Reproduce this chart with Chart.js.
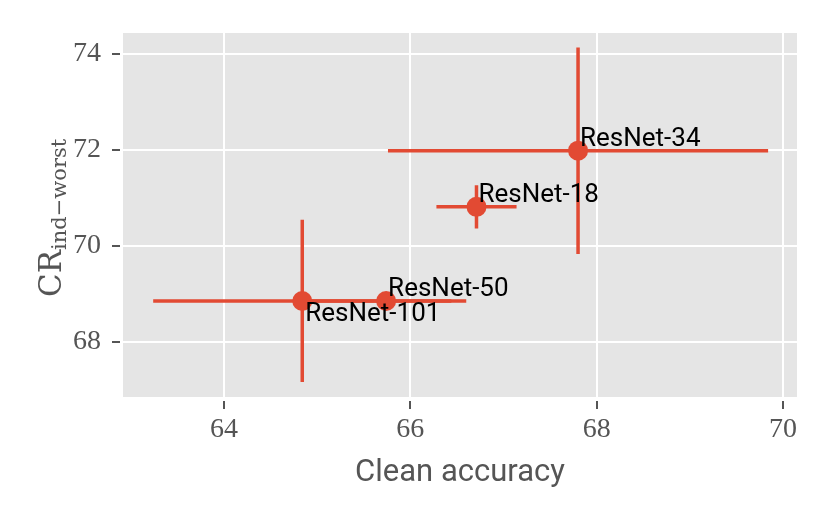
<!DOCTYPE html>
<html>
<head>
<meta charset="utf-8">
<script src="https://cdn.jsdelivr.net/npm/chart.js@4.4.1/dist/chart.umd.min.js"></script>
<style>
    html, body { margin: 0; padding: 0; background: #ffffff; }
    #wrap { width: 830px; height: 519px; }
</style>
</head>
<body>
<div id="wrap"><canvas id="myChart" width="830" height="519"></canvas></div>
<script>
// values
const models = ['ResNet-18', 'ResNet-34', 'ResNet-50', 'ResNet-101'];
const cleanAcc = [66.71, 67.80, 65.74, 64.84];
const cleanErr = [0.43, 2.04, 0.86, 1.60];
const crWorst = [70.81, 71.98, 68.85, 68.85];
const crErr = [0.45, 2.15, 0.08, 1.69];
const xTicks = [64, 66, 68, 70];
const yTicks = [68, 70, 72, 74];

const red = '#E24A33';
const tickGray = '#555555';
const labelBelow = { 'ResNet-101': true };

let points = [];
for (let i = 0; i < models.length; i++) {
    points.push({ x: cleanAcc[i], y: crWorst[i] });
}

const ggplotPlugin = {
    id: 'ggplotBits',
    beforeDraw(chart) {
        let ctx = chart.ctx;
        let a = chart.chartArea;
        ctx.save();
        ctx.fillStyle = '#E5E5E5';
        ctx.fillRect(a.left, a.top, a.right - a.left, a.bottom - a.top);
        ctx.restore();
    },
    beforeDatasetsDraw(chart) {
        let ctx = chart.ctx;
        let xs = chart.scales.x, ys = chart.scales.y;
        ctx.save();
        ctx.strokeStyle = red;
        ctx.lineWidth = 3.5;
        for (let i = 0; i < models.length; i++) {
            let px = xs.getPixelForValue(cleanAcc[i]);
            let py = ys.getPixelForValue(crWorst[i]);
            ctx.beginPath();
            ctx.moveTo(xs.getPixelForValue(cleanAcc[i] - cleanErr[i]), py);
            ctx.lineTo(xs.getPixelForValue(cleanAcc[i] + cleanErr[i]), py);
            ctx.moveTo(px, ys.getPixelForValue(crWorst[i] - crErr[i]));
            ctx.lineTo(px, ys.getPixelForValue(crWorst[i] + crErr[i]));
            ctx.stroke();
        }
        ctx.restore();
    },
    afterDatasetsDraw(chart) {
        let ctx = chart.ctx;
        let xs = chart.scales.x, ys = chart.scales.y;
        ctx.save();
        ctx.fillStyle = '#000000';
        ctx.font = '26px Roboto';
        ctx.textAlign = 'left';
        ctx.textBaseline = 'alphabetic';
        for (let i = 0; i < models.length; i++) {
            let px = xs.getPixelForValue(cleanAcc[i]);
            let py = ys.getPixelForValue(crWorst[i]);
            if (labelBelow[models[i]]) {
                ctx.fillText(models[i], px + 3, py + 20);
            } else {
                ctx.fillText(models[i], px + 2, py - 5);
            }
        }
        ctx.restore();
    },
    afterDraw(chart) {
        let ctx = chart.ctx;
        let xs = chart.scales.x, ys = chart.scales.y;
        let a = chart.chartArea;
        ctx.save();
        // tick marks, a little off the panel like ggplot
        ctx.strokeStyle = tickGray;
        ctx.lineWidth = 2;
        ctx.beginPath();
        xTicks.forEach(v => {
            let px = Math.round(xs.getPixelForValue(v));
            ctx.moveTo(px, a.bottom + 4);
            ctx.lineTo(px, a.bottom + 12);
        });
        yTicks.forEach(v => {
            let py = Math.round(ys.getPixelForValue(v));
            ctx.moveTo(a.left - 11, py);
            ctx.lineTo(a.left - 3, py);
        });
        ctx.stroke();

        // x axis title
        ctx.fillStyle = tickGray;
        ctx.font = '31px Roboto';
        ctx.textAlign = 'center';
        ctx.textBaseline = 'alphabetic';
        ctx.fillText('Clean accuracy', (a.left + a.right) / 2, 481);

        // y axis title with subscript
        ctx.translate(61, 297);
        ctx.rotate(-Math.PI / 2);
        ctx.textAlign = 'left';
        ctx.font = '31px "DejaVu Serif"';
        ctx.fillText('CR', 0, 0);
        let w = ctx.measureText('CR').width;
        ctx.font = '21px "DejaVu Serif"';
        ctx.fillText('ind\u2212worst', w, 5);
        ctx.restore();
    }
};

let ctx = document.getElementById('myChart').getContext('2d');
let myChart = new Chart(ctx, {
    type: 'scatter',
    data: {
        datasets: [{
            label: 'models',
            data: points,
            backgroundColor: red,
            borderWidth: 0,
            pointRadius: 10,
            pointHoverRadius: 10
        }]
    },
    options: {
        responsive: false,
        animation: false,
        layout: { padding: { top: 33, right: 33, left: 0, bottom: 0 } },
        plugins: {
            legend: { display: false },
            tooltip: { enabled: false }
        },
        scales: {
            x: {
                type: 'linear',
                min: 62.916,
                max: 70.15,
                afterBuildTicks: function (scale) {
                    scale.ticks = xTicks.map(v => ({ value: v }));
                },
                afterFit: function (scale) {
                    scale.height = 122;
                    scale.paddingLeft = 0;
                    scale.paddingRight = 0;
                },
                grid: { color: '#ffffff', lineWidth: 2, drawTicks: false },
                border: { display: false },
                ticks: {
                    color: tickGray,
                    padding: 16,
                    font: { family: 'Liberation Serif', size: 28 },
                    callback: v => String(v)
                }
            },
            y: {
                type: 'linear',
                min: 66.85,
                max: 74.43,
                afterBuildTicks: function (scale) {
                    scale.ticks = yTicks.map(v => ({ value: v }));
                },
                afterFit: function (scale) {
                    scale.width = 123;
                    scale.paddingTop = 0;
                    scale.paddingBottom = 0;
                },
                grid: { color: '#ffffff', lineWidth: 2, drawTicks: false },
                border: { display: false },
                ticks: {
                    color: tickGray,
                    padding: 22,
                    font: { family: 'Liberation Serif', size: 28 },
                    callback: v => String(v)
                }
            }
        }
    },
    plugins: [ggplotPlugin]
});
</script>
</body>
</html>
